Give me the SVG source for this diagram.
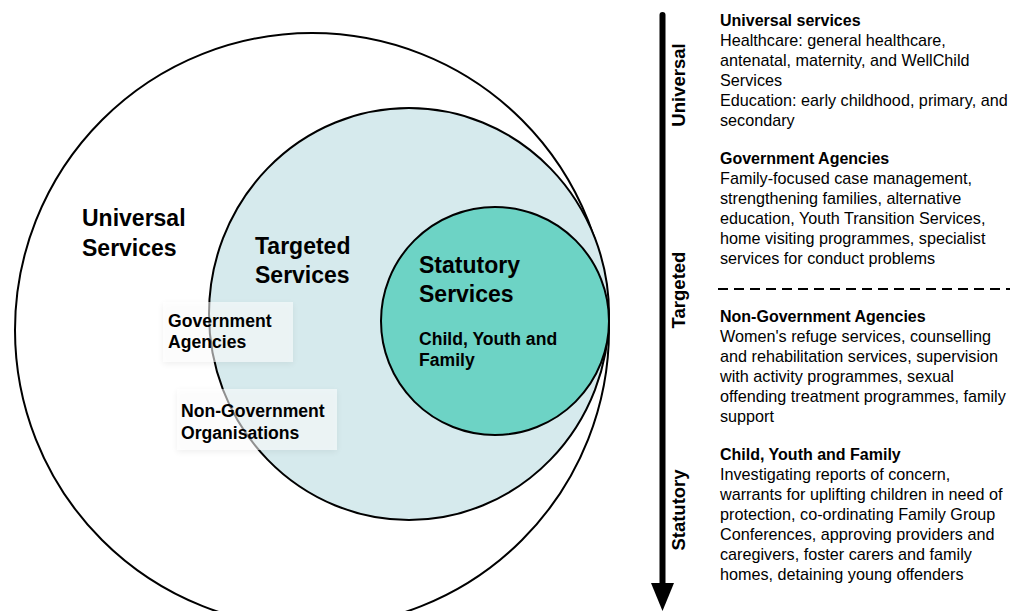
<svg xmlns="http://www.w3.org/2000/svg" width="1012" height="611" viewBox="0 0 1012 611">
<defs>
<filter id="sh" x="-20%" y="-30%" width="140%" height="160%">
<feGaussianBlur in="SourceAlpha" stdDeviation="3"/>
<feOffset dx="0" dy="2" result="b"/>
<feComponentTransfer><feFuncA type="linear" slope="0.12"/></feComponentTransfer>
<feMerge><feMergeNode/><feMergeNode in="SourceGraphic"/></feMerge>
</filter>
</defs>
<style>
text{font-family:"Liberation Sans",Arial,Helvetica,sans-serif;fill:#000}
.big{font-size:23px;font-weight:bold}
.mid{font-size:17.6px;font-weight:bold}
.vl{font-size:18.5px;font-weight:bold}
.rt{font-size:16.2px}
.rb{font-size:16px;font-weight:bold}
.circ{stroke:#000;stroke-width:2}
.lbox{fill:#ffffff;fill-opacity:0.55}
</style>
<rect width="1012" height="611" fill="#fff"/>
<g id="universal">
<circle class="circ" cx="312" cy="330" r="297" fill="#fff"/>
<text class="big" x="82" y="226">Universal</text>
<text class="big" x="82" y="256">Services</text>
</g>
<g id="targeted">
<ellipse class="circ" cx="409" cy="314" rx="200" ry="206" fill="#d6eaed"/>
<text class="big" x="255" y="254">Targeted</text>
<text class="big" x="255" y="283">Services</text>
</g>
<g id="statutory">
<circle class="circ" cx="495" cy="321" r="114" fill="#6dd3c5"/>
<text class="big" x="419" y="273">Statutory</text>
<text class="big" x="419" y="302">Services</text>
<text class="mid" x="419" y="345">Child, Youth and</text>
<text class="mid" x="419" y="366">Family</text>
</g>
<g id="gov-agencies">
<rect class="lbox" x="163" y="302" width="130" height="60" filter="url(#sh)"/>
<text class="mid" x="168" y="327">Government</text>
<text class="mid" x="168" y="348">Agencies</text>
</g>
<g id="ngo">
<rect class="lbox" x="177" y="389" width="160" height="61" filter="url(#sh)"/>
<text class="mid" x="181" y="417">Non-Government</text>
<text class="mid" x="181" y="439">Organisations</text>
</g>
<g id="connectors">
<line x1="662.5" y1="15" x2="662.5" y2="586" stroke="#000" stroke-width="6" stroke-linecap="round"/>
<polygon points="651,583 674,583 662.5,611" fill="#000"/>
<line x1="718" y1="289" x2="1010" y2="289" stroke="#000" stroke-width="2" stroke-dasharray="10,6"/>
</g>
<g id="axis-labels">
<text class="vl" transform="translate(685,85) rotate(-90)" text-anchor="middle">Universal</text>
<text class="vl" transform="translate(685,290) rotate(-90)" text-anchor="middle">Targeted</text>
<text class="vl" transform="translate(685,510) rotate(-90)" text-anchor="middle">Statutory</text>
</g>
<g id="desc-universal">
<text class="rb" x="720" y="26">Universal services</text>
<text class="rt" x="720" y="46">Healthcare: general healthcare,</text>
<text class="rt" x="720" y="66">antenatal, maternity, and WellChild</text>
<text class="rt" x="720" y="86">Services</text>
<text class="rt" x="720" y="106">Education: early childhood, primary, and</text>
<text class="rt" x="720" y="126">secondary</text>
</g>
<g id="desc-gov">
<text class="rb" x="720" y="164">Government Agencies</text>
<text class="rt" x="720" y="184">Family-focused case management,</text>
<text class="rt" x="720" y="204">strengthening families, alternative</text>
<text class="rt" x="720" y="224">education, Youth Transition Services,</text>
<text class="rt" x="720" y="244">home visiting programmes, specialist</text>
<text class="rt" x="720" y="264">services for conduct problems</text>
</g>
<g id="desc-ngo">
<text class="rb" x="720" y="322">Non-Government Agencies</text>
<text class="rt" x="720" y="342">Women's refuge services, counselling</text>
<text class="rt" x="720" y="362">and rehabilitation services, supervision</text>
<text class="rt" x="720" y="382">with activity programmes, sexual</text>
<text class="rt" x="720" y="402">offending treatment programmes, family</text>
<text class="rt" x="720" y="422">support</text>
</g>
<g id="desc-cyf">
<text class="rb" x="720" y="460">Child, Youth and Family</text>
<text class="rt" x="720" y="480">Investigating reports of concern,</text>
<text class="rt" x="720" y="500">warrants for uplifting children in need of</text>
<text class="rt" x="720" y="520">protection, co-ordinating Family Group</text>
<text class="rt" x="720" y="540">Conferences, approving providers and</text>
<text class="rt" x="720" y="560">caregivers, foster carers and family</text>
<text class="rt" x="720" y="580">homes, detaining young offenders</text>
</g>
</svg>
